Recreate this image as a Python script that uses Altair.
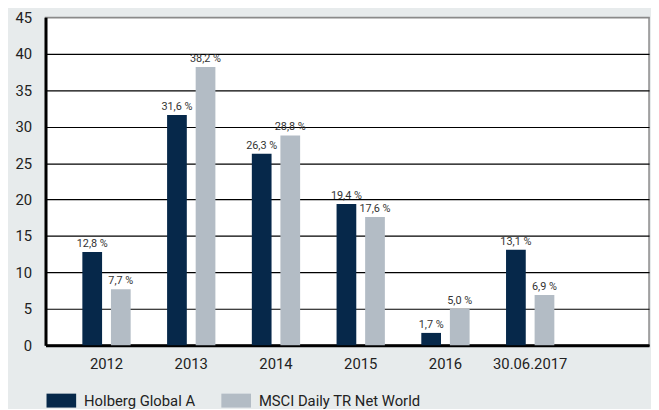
import altair as alt
import pandas as pd

categories = ["2012", "2013", "2014", "2015", "2016", "30.06.2017"]
holberg = [12.8, 31.6, 26.3, 19.4, 1.7, 13.1]
msci = [7.7, 38.2, 28.8, 17.6, 5.0, 6.9]
series_names = ["Holberg Global A", "MSCI Daily TR Net World"]
colors = ["#06284a", "#b3bcc5"]
y_ticks = [0, 5, 10, 15, 20, 25, 30, 35, 40, 45]

rows = []
for i, c in enumerate(categories):
    for name, vals in zip(series_names, [holberg, msci]):
        v = vals[i]
        rows.append({"cat": c, "series": name, "value": v,
                     "label": f"{v:.1f}".replace(".", ",") + " %"})
df = pd.DataFrame(rows)

FONT = "Roboto"

x = alt.X("cat:N", sort=categories, title=None,
          scale=alt.Scale(paddingInner=0.43, paddingOuter=0.776, align=0.28),
          axis=alt.Axis(labelAngle=0, labelFontSize=15, labelColor="#222",
                        labelPadding=12, ticks=False, domainColor="black",
                        domainWidth=3, labelFont=FONT))
xo = alt.XOffset("series:N", sort=series_names,
                 scale=alt.Scale(paddingInner=0.31, paddingOuter=0))
y = alt.Y("value:Q", title=None,
          scale=alt.Scale(domain=[0, 45], nice=False),
          axis=alt.Axis(values=y_ticks, labelFontSize=15, labelColor="#222",
                        labelPadding=14, ticks=False, domainColor="black",
                        domainWidth=3, gridColor=alt.condition(
                            alt.datum.value == 45, alt.value("#8a8a8a"), alt.value("black")),
                        gridWidth=1.2, labelFont=FONT))

bars = alt.Chart(df).mark_bar().encode(
    x=x, xOffset=xo, y=y,
    color=alt.Color("series:N", sort=series_names,
                    scale=alt.Scale(domain=series_names, range=colors),
                    legend=alt.Legend(title=None, orient="none", legendX=1, legendY=373,
                                      direction="horizontal",
                                      symbolType="M-1,-0.47H1V0.47H-1Z",
                                      symbolSize=900, symbolStrokeWidth=0,
                                      labelFontSize=15, labelColor="#222",
                                      labelOffset=8, columnPadding=26,
                                      labelLimit=400,
                                      labelFont=FONT, symbolOpacity=1)),
)

texts = alt.Chart(df).mark_text(dy=-8, fontSize=11, color="#333", font=FONT).encode(
    x=x, xOffset=xo, y=y, text="label:N")

chart = (bars + texts).properties(
    width=611, height=332,
    padding={"left": 38, "top": 7, "right": 2, "bottom": 62},
    autosize=alt.AutoSizeParams(type="none"),
    background="#e7ebec",
).configure_view(fill="white", stroke="#8a8a8a", strokeWidth=1.5)

chart.save("out.html", embed_options={"renderer": "svg", "actions": False})
